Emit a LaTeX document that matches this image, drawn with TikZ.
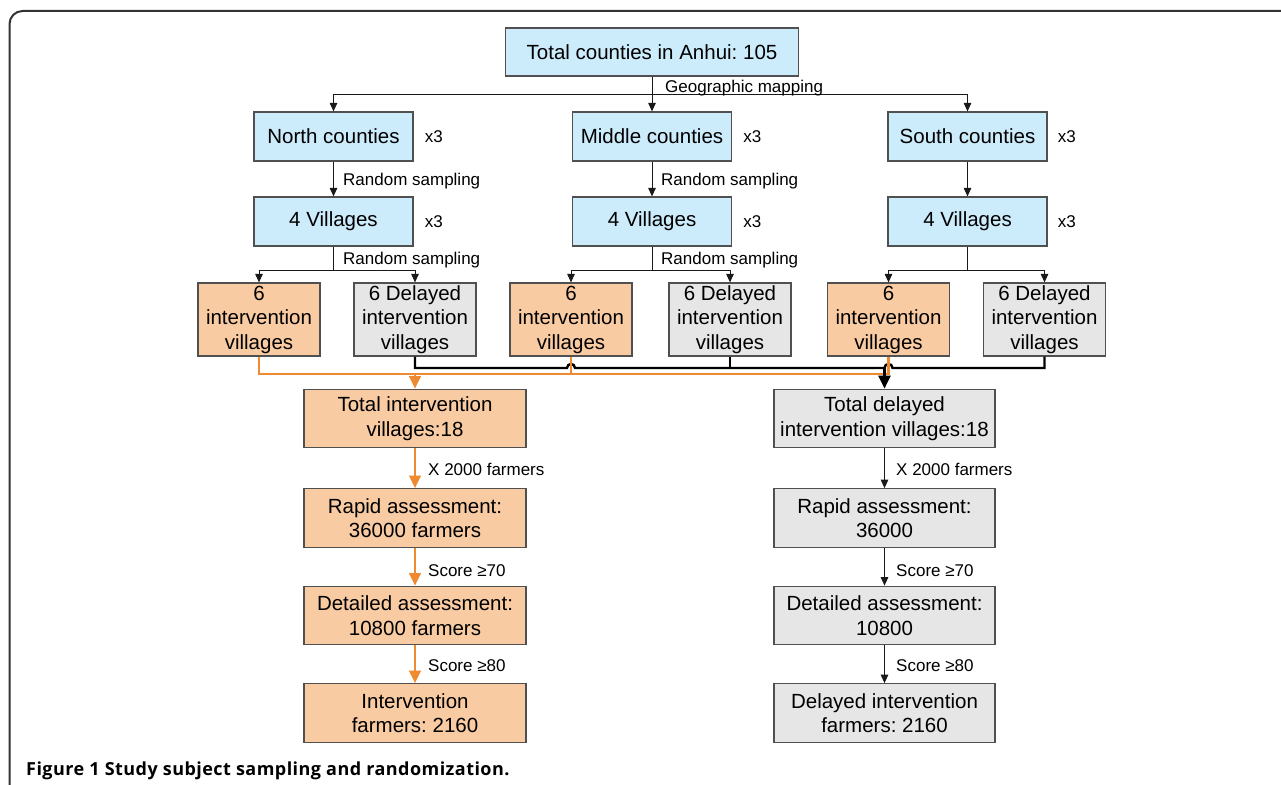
\documentclass[tikz,border=0pt]{standalone}
\usepackage{fontspec}
\setmainfont{Liberation Sans}
\newfontfamily\capfont[LetterSpace=2.5]{Open Sans}
\usetikzlibrary{arrows.meta,calc}
\frenchspacing
\definecolor{boxblue}{HTML}{CCEBFB}
\definecolor{boxorange}{HTML}{F9CBA3}
\definecolor{boxgray}{HTML}{E6E6E6}
\definecolor{lineorange}{HTML}{F08A30}
\definecolor{frameline}{HTML}{333333}
\definecolor{boxline}{HTML}{505050}
\begin{document}
\frenchspacing
\begin{tikzpicture}[x=1pt,y=-1pt,
  box/.style={draw=boxline, line width=1.2pt, inner sep=0pt, align=center,
    font=\frenchspacing\fontsize{20.5}{24.5}\selectfont},
  bluebox/.style={box, fill=boxblue, minimum width=159pt, minimum height=49pt},
  topbox/.style={box, fill=boxblue, minimum width=293pt, minimum height=48pt},
  orvil/.style={box, fill=boxorange, minimum width=122pt, minimum height=73pt},
  grvil/.style={box, fill=boxgray, minimum width=122pt, minimum height=73pt},
  orbig/.style={box, fill=boxorange, minimum width=222pt, minimum height=58.5pt},
  grbig/.style={box, fill=boxgray, minimum width=221pt, minimum height=58.5pt},
  lbl/.style={inner sep=0pt, anchor=base west, font=\fontsize{17}{20}\selectfont},
  conn/.style={draw=black!90, line width=1pt},
  arr/.style={conn, -{Triangle[length=8.5pt,width=7.5pt]}},
  bus/.style={draw=black, line width=2.4pt},
  barr/.style={draw=black, line width=2.4pt, -{Triangle[length=13pt,width=12pt]}},
  obus/.style={draw=lineorange, line width=2.2pt},
  oarr/.style={draw=lineorange, line width=2.2pt, -{Triangle[length=12.5pt,width=11.5pt]}},
  frm/.style={draw=frameline, line width=2pt, rounded corners=13pt}
]
\clip (0,0) rectangle (1281,784);
\fill[white] (0,0) rectangle (1281,784);
\draw[frm] (9.5,820) -- (9.5,11) -- (1320,11);

% top
\node[topbox] (top) at (652,52) {Total counties in Anhui: 105};
% counties
\node[bluebox] (n1) at (333.5,136.5) {North counties};
\node[bluebox] (m1) at (652,136.5) {Middle counties};
\node[bluebox] (s1) at (967.5,136.5) {South counties};
% villages
\node[bluebox] (n2) at (333.5,221.5) {4 Villages};
\node[bluebox] (m2) at (652,221.5) {4 Villages};
\node[bluebox] (s2) at (967.5,221.5) {4 Villages};
% x3 labels
\node[lbl] (xn1) at ([xshift=11pt]n1.east |- 0,142) {x3};
\node[lbl] (xm1) at ([xshift=11pt]m1.east |- 0,142) {x3};
\node[lbl] (xs1) at ([xshift=10pt]s1.east |- 0,142) {x3};
\node[lbl] (xn2) at ([xshift=11pt]n2.east |- 0,227) {x3};
\node[lbl] (xm2) at ([xshift=11pt]m2.east |- 0,227) {x3};
\node[lbl] (xs2) at ([xshift=10pt]s2.east |- 0,227) {x3};
% village groups
\node[orvil] (ni) at (259,319.5) {6\\intervention\\villages};
\node[grvil] (nd) at (415,319.5) {6 Delayed\\intervention\\villages};
\node[orvil] (mi) at (571,319.5) {6\\intervention\\villages};
\node[grvil] (md) at (730,319.5) {6 Delayed\\intervention\\villages};
\node[orvil] (si) at (888.5,319.5) {6\\intervention\\villages};
\node[grvil] (sd) at (1044.5,319.5) {6 Delayed\\intervention\\villages};
% totals and columns
\node[orbig] (ti) at (415,418.5) {Total intervention\\villages:18};
\node[grbig] (td) at (884.5,418.5) {Total delayed\\intervention villages:18};
\node[orbig] (ra) at (415,518) {Rapid assessment:\\36000 farmers};
\node[grbig] (rd) at (884.5,518) {Rapid assessment:\\36000};
\node[orbig] (da) at (415,615.5) {Detailed assessment:\\10800 farmers};
\node[grbig] (dd) at (884.5,615.5) {Detailed assessment:\\10800};
\node[orbig] (fa) at (415,713) {Intervention\\farmers: 2160};
\node[grbig] (fd) at (884.5,713) {Delayed intervention\\farmers: 2160};

% geographic mapping
\coordinate (g) at (652,94);
\draw[arr] (top.south) -- (m1.north);
\draw[conn] (n1.north |- g) -- (s1.north |- g);
\draw[arr] (n1.north |- g) -- (n1.north);
\draw[arr] (s1.north |- g) -- (s1.north);
\node[lbl] (lg) at (665,92) {Geographic mapping};
% county -> villages
\draw[arr] (n1.south) -- (n2.north);
\draw[arr] (m1.south) -- (m2.north);
\draw[arr] (s1.south) -- (s2.north);
\node[lbl] (lr1) at (343,185) {Random sampling};
\node[lbl] (lr2) at (661,185) {Random sampling};
% villages -> split
\coordinate (sp) at (0,270);
\foreach \v/\a/\b in {n2/ni/nd, m2/mi/md, s2/si/sd}{
  \draw[conn] (\v.south) -- (\v.south |- sp);
  \draw[conn] (\a.north |- sp) -- (\b.north |- sp);
  \draw[arr] (\a.north |- sp) -- (\a.north);
  \draw[arr] (\b.north |- sp) -- (\b.north);
}
\node[lbl] (lr3) at (343,264) {Random sampling};
\node[lbl] (lr4) at (661,264) {Random sampling};

% black bus with hops
\coordinate (bb) at (0,368);
\coordinate (ob) at (0,374);
\draw[bus] (nd.south) -- (nd.south |- bb)
  -- ($(mi.south |- bb)+(-4,0)$) .. controls ($(mi.south |- bb)+(-4,-5.3)$) and ($(mi.south |- bb)+(4,-5.3)$) .. ($(mi.south |- bb)+(4,0)$)
  -- ($(si.south |- bb)+(-4,0)$) .. controls ($(si.south |- bb)+(-4,-5.3)$) and ($(si.south |- bb)+(4,-5.3)$) .. ($(si.south |- bb)+(4,0)$)
  -- (sd.south |- bb) -- (sd.south);
\draw[bus] (md.south) -- (md.south |- bb);
% orange bus
\draw[obus] (ni.south) -- (ni.south |- ob) -- (si.south |- ob) -- (si.south);
\draw[obus] (mi.south) -- (mi.south |- ob);
\draw[oarr] (ti.north |- ob) -- (ti.north);
\draw[barr] (td.north |- bb) -- (td.north);

% left column
\draw[oarr] (ti.south) -- (ra.north);
\draw[oarr] (ra.south) -- (da.north);
\draw[oarr] (da.south) -- (fa.north);
\node[lbl] (l1) at (428,475) {X 2000 farmers};
\node[lbl] (l2) at (428,576) {Score ≥70};
\node[lbl] (l3) at (428,671) {Score ≥80};
% right column
\draw[arr] (td.south) -- (rd.north);
\draw[arr] (rd.south) -- (dd.north);
\draw[arr] (dd.south) -- (fd.north);
\node[lbl] (r1) at (896,475) {X 2000 farmers};
\node[lbl] (r2) at (896,576) {Score ≥70};
\node[lbl] (r3) at (896,671) {Score ≥80};

% caption
\node[inner sep=0pt, anchor=base west, font=\capfont\bfseries\fontsize{18}{21}\selectfont] (cap) at (26,775) {Figure 1 Study subject sampling and randomization.};
\end{tikzpicture}
\end{document}
